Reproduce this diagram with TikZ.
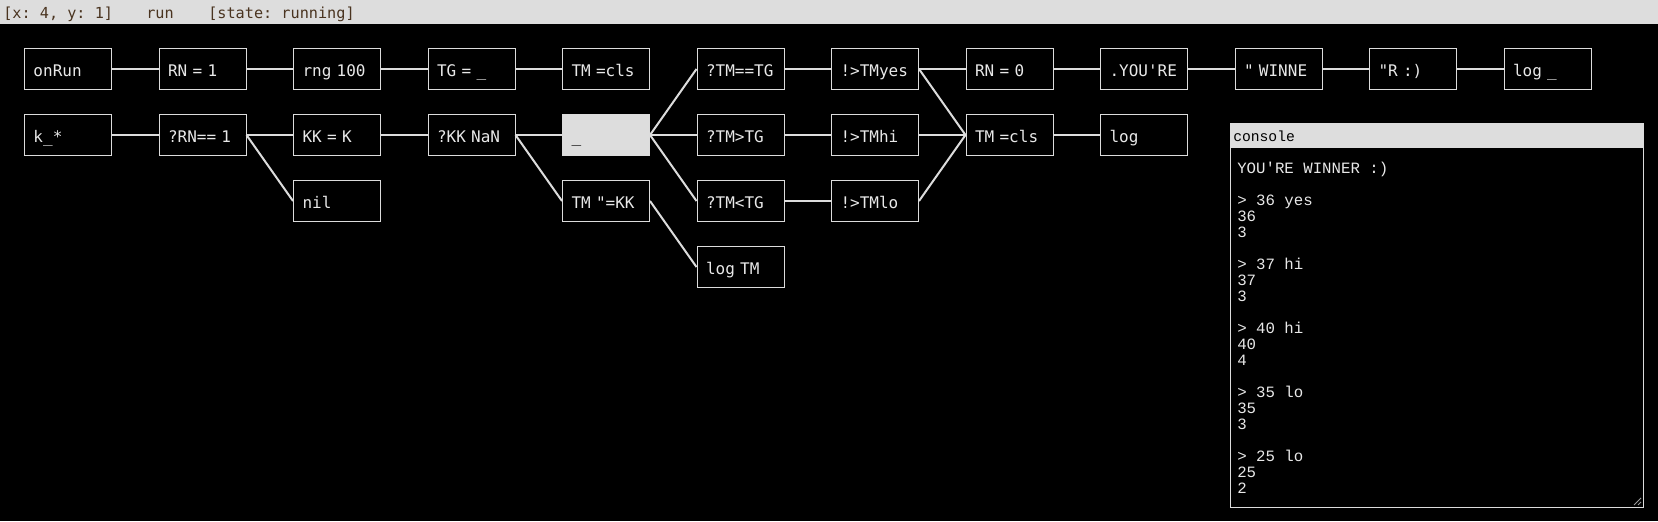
\documentclass[tikz,border=0pt]{standalone}
\usepackage{fontspec}
\newfontfamily\boxfont[WordSpace={1,0,0},PunctuationSpace=WordSpace]{DejaVu Sans Mono}
\newfontfamily\confont[WordSpace={1,0,0},PunctuationSpace=WordSpace]{Liberation Mono}
\definecolor{bg}{HTML}{000000}
\definecolor{edgec}{HTML}{DCDCDC}
\definecolor{txt}{HTML}{E8E8E8}
\definecolor{barc}{HTML}{DDDDDD}
\definecolor{bartxt}{HTML}{4A3420}
\tikzset{
  blk/.style={draw=edgec, line width=0.75pt, anchor=north west, minimum width=65.25pt,
    minimum height=30.75pt, inner xsep=6.75pt, inner ysep=0pt, text width=51.75pt,
    align=left, text height=11.25pt, text depth=0pt, text=txt,
    font=\boxfont\fontsize{12pt}{14pt}\selectfont},
  sel/.style={fill=barc, text=black},
  wire/.style={draw=edgec, line width=1.5pt},
  bartext/.style={anchor=base west, inner sep=0pt, text=bartxt, font=\boxfont\fontsize{11.4pt}{13pt}\selectfont},
  context/.style={anchor=base west, inner sep=0pt, text=txt, font=\confont\fontsize{11.8pt}{12pt}\selectfont},
}
\begin{document}
\begin{tikzpicture}[x=0.75pt,y=-0.75pt]
\useasboundingbox (0,0) rectangle (1658,521);
\fill[bg] (0,0) rectangle (1658,521);
% top bar
\fill[barc] (0,0) rectangle (1658,24);
\node[bartext] (b1) at (3,18) {[x: 4, y: 1]};
\node[bartext] (b2) at (146,18) {run};
\node[bartext] (b3) at (208,18) {[state: running]};
% row 1
\node[blk] (onrun) at (24,48) {onRun};
\node[blk] (rn1) at (158.5,48) {RN = 1};
\node[blk] (rng) at (293,48) {rng 100};
\node[blk] (tg) at (427.5,48) {TG = \_};
\node[blk] (tmcls) at (562,48) {TM =cls};
\node[blk] (eq) at (696.5,48) {?TM==TG};
\node[blk] (yes) at (831,48) {!>TMyes};
\node[blk] (rn0) at (965.5,48) {RN = 0};
\node[blk] (you) at (1100,48) {.YOU'RE};
\node[blk] (win) at (1234.5,48) {" WINNE};
\node[blk] (rr) at (1369,48) {"R :)};
\node[blk] (log1) at (1503.5,48) {log \_};
% row 2
\node[blk] (kstar) at (24,114) {k\_*};
\node[blk] (rneq) at (158.5,114) {?RN== 1};
\node[blk] (kk) at (293,114) {KK = K};
\node[blk] (nan) at (427.5,114) {?KK NaN};
\node[blk,sel] (cur) at (562,114) {\_};
\node[blk] (gt) at (696.5,114) {?TM>TG};
\node[blk] (hi) at (831,114) {!>TMhi};
\node[blk] (tmcls2) at (965.5,114) {TM =cls};
\node[blk] (log2) at (1100,114) {log};
% row 3
\node[blk] (nil) at (293,180) {nil};
\node[blk] (tmkk) at (562,180) {TM "=KK};
\node[blk] (lt) at (696.5,180) {?TM<TG};
\node[blk] (lo) at (831,180) {!>TMlo};
% row 4
\node[blk] (logtm) at (696.5,246) {log TM};
% connectors
\foreach \a/\b in {onrun/rn1, rn1/rng, rng/tg, tg/tmcls, eq/yes, yes/rn0, rn0/you, you/win, win/rr, rr/log1,
  kstar/rneq, rneq/kk, rneq/nil, kk/nan, nan/cur, nan/tmkk, cur/eq, cur/gt, cur/lt, tmkk/logtm,
  gt/hi, lt/lo, yes/tmcls2, hi/tmcls2, lo/tmcls2, tmcls2/log2}
  \draw[wire] (\a.east) -- (\b.west);
% console
\fill[barc] (1230,123) rectangle (1643,148);
\draw[edgec, line width=0.75pt] (1230,148) -- (1230,507) -- (1643,507) -- (1643,123);
\node[anchor=base west, inner sep=0pt, text=black, font=\confont\fontsize{11pt}{12pt}\selectfont] (contitle) at (1233,141) {console};
\draw[edgec!70!black, line width=0.6pt] (1634,505) -- (1641,498) (1638,505) -- (1641,502);
\foreach \t [count=\i from 0] in {YOU'RE WINNER :),,> 36 yes,36,3,,> 37 hi,37,3,,> 40 hi,40,4,,> 35 lo,35,3,,> 25 lo,25,2}
  \node[context] (c\i) at (1237,173+16*\i) {\t};
\end{tikzpicture}
\end{document}
